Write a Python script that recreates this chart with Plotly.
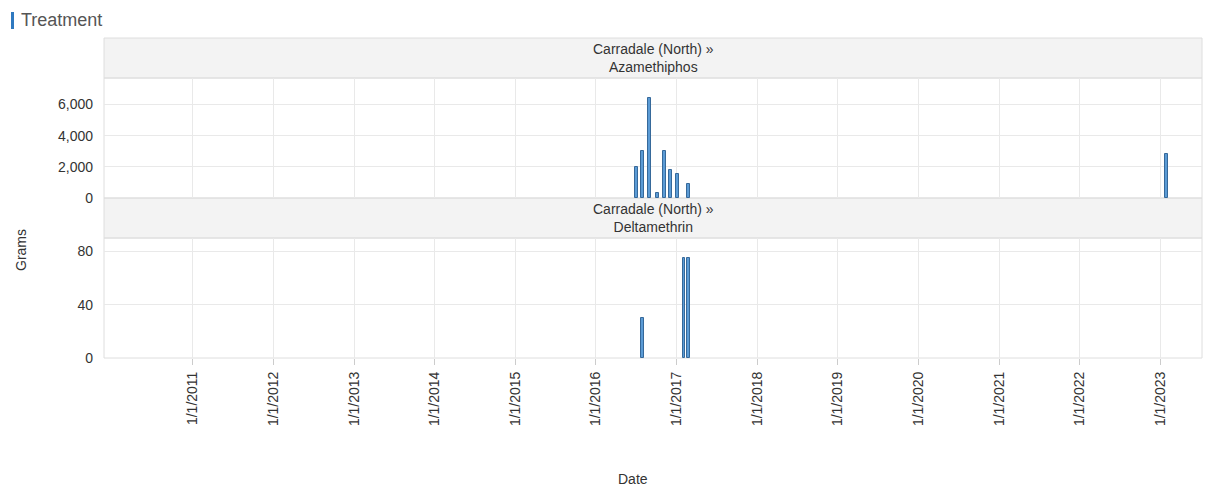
import plotly.graph_objects as go

# ---- data ----
aza_dates = ["2016-07-03", "2016-07-28", "2016-08-29", "2016-10-04", "2016-11-05",
             "2016-12-03", "2017-01-05", "2017-02-25", "2023-01-30"]
aza_grams = [2000, 3000, 6400, 300, 3000, 1800, 1550, 900, 2800]

delta_dates = ["2016-07-30", "2017-02-03", "2017-02-24"]
delta_grams = [30, 75, 75]

tick_dates = ["2011-01-01", "2012-01-01", "2013-01-01", "2014-01-01", "2015-01-01",
              "2016-01-01", "2017-01-01", "2018-01-01", "2019-01-01", "2020-01-01",
              "2021-01-01", "2022-01-01", "2023-01-01"]
tick_labels = ["1/1/2011", "1/1/2012", "1/1/2013", "1/1/2014", "1/1/2015", "1/1/2016",
               "1/1/2017", "1/1/2018", "1/1/2019", "1/1/2020", "1/1/2021", "1/1/2022",
               "1/1/2023"]

panel_titles = ["Carradale (North) »<br>Azamethiphos", "Carradale (North) »<br>Deltamethrin"]
chart_title = "Treatment"
x_title = "Date"
y_title = "Grams"

# ---- layout geometry (pixels, in reference-image coordinates) ----
OFF = 8  # page body margin
W, H = 1211 - OFF, 488 - OFF
PLOT_L, PLOT_R, PLOT_T, PLOT_B = 104, 1202, 38, 358
L = PLOT_L - OFF
R = W - (PLOT_R - OFF)
T = PLOT_T - OFF
B = H - (PLOT_B - OFF)
PW, PH = W - L - R, H - T - B


def px_x(px):
    return (px - OFF - L) / PW


def px_y(py):
    return (H - B - (py - OFF)) / PH


FONT = "Liberation Sans, Arial, sans-serif"
BAR_FILL = "#5b9bd5"
BAR_LINE = "#36699a"
GRID = "#e9e9e9"
BORDER = "#dedede"
bar_w = 13 * 86400000

fig = go.Figure()
fig.add_trace(go.Bar(x=aza_dates, y=aza_grams, width=bar_w, xaxis="x", yaxis="y",
                     marker=dict(color=BAR_FILL, line=dict(color=BAR_LINE, width=1)),
                     showlegend=False))
fig.add_trace(go.Bar(x=delta_dates, y=delta_grams, width=bar_w, xaxis="x2", yaxis="y2",
                     marker=dict(color=BAR_FILL, line=dict(color=BAR_LINE, width=1)),
                     showlegend=False))

xrange = ["2009-11-25", "2023-07-08"]
xcommon = dict(type="date", range=xrange, tickmode="array", tickvals=tick_dates,
               ticktext=tick_labels, showgrid=True, gridcolor=GRID,
               zeroline=False, showline=False)

d_plot1 = [px_y(198), px_y(78)]
d_head1 = [px_y(78), px_y(38)]
d_plot2 = [px_y(358), px_y(238)]
d_head2 = [px_y(238), px_y(198)]

fig.update_layout(
    width=W, height=H,
    margin=dict(l=L, r=R, t=T, b=B),
    paper_bgcolor="white", plot_bgcolor="white",
    font=dict(family=FONT, size=14, color="#444"),
    bargap=0,
    xaxis=dict(**xcommon, anchor="y", domain=[0, 1], showticklabels=False),
    xaxis2=dict(**xcommon, anchor="y2", domain=[0, 1], matches="x",
                tickangle=-90, ticks="outside", ticklen=6, tickcolor="#cccccc",
                ticklabelstandoff=1,
                tickfont=dict(family=FONT, size=14, color="#333")),
    yaxis=dict(domain=d_plot1, range=[0, 7700], tickvals=[0, 2000, 4000, 6000],
               tickformat=",", showgrid=True, gridcolor=GRID, zeroline=False,
               ticklabelstandoff=10, tickfont=dict(family=FONT, size=14, color="#333")),
    yaxis2=dict(domain=d_plot2, range=[0, 90], tickvals=[0, 40, 80],
                showgrid=True, gridcolor=GRID, zeroline=False,
                ticklabelstandoff=10, tickfont=dict(family=FONT, size=14, color="#333")),
)

shapes = []
for dom in (d_head1, d_head2):
    shapes.append(dict(type="rect", xref="paper", yref="paper", x0=0, x1=1,
                       y0=dom[0], y1=dom[1], fillcolor="#f3f3f3",
                       line=dict(color=BORDER, width=1), layer="below"))
for dom in (d_plot1, d_plot2):
    shapes.append(dict(type="rect", xref="paper", yref="paper", x0=0, x1=1,
                       y0=dom[0], y1=dom[1], fillcolor="rgba(0,0,0,0)",
                       line=dict(color=BORDER, width=1), layer="below"))
shapes.append(dict(type="rect", xref="paper", yref="paper",
                   x0=px_x(11), x1=px_x(14), y0=px_y(29), y1=px_y(12),
                   fillcolor="#2f79c0", line=dict(width=0)))
fig.update_layout(shapes=shapes)

annotations = []
for dom, txt in zip((d_head1, d_head2), panel_titles):
    annotations.append(dict(text=txt, xref="paper", yref="paper", x=0.5,
                            y=(dom[0] + dom[1]) / 2, showarrow=False,
                            xanchor="center", yanchor="middle",
                            font=dict(family=FONT, size=14, color="#333")))
annotations.append(dict(text=chart_title, xref="paper", yref="paper",
                        x=px_x(19), y=px_y(20), xanchor="left", yanchor="middle",
                        showarrow=False, font=dict(family=FONT, size=18, color="#555")))
annotations.append(dict(text=y_title, xref="paper", yref="paper",
                        x=px_x(21), y=px_y(250), textangle=-90, showarrow=False,
                        xanchor="center", yanchor="middle",
                        font=dict(family=FONT, size=14, color="#333")))
annotations.append(dict(text=x_title, xref="paper", yref="paper",
                        x=px_x(633), y=px_y(479), showarrow=False,
                        xanchor="center", yanchor="middle",
                        font=dict(family=FONT, size=14, color="#333")))
fig.update_layout(annotations=annotations)

fig.write_html("out.html")
